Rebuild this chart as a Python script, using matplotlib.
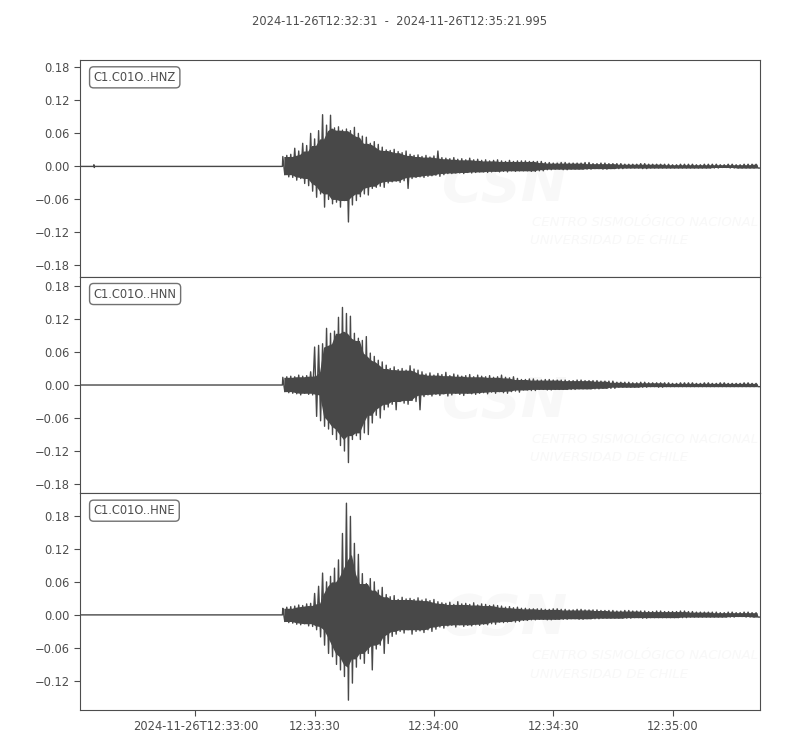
import numpy as np
import matplotlib
matplotlib.use('Agg')
from matplotlib import pyplot as plt
from matplotlib.ticker import MultipleLocator

# seconds after 2024-11-26T12:32:31
t_start = 0.0
t_end = 170.995
onset = 50.9
t_main = np.arange(51, 111)          # 1 s bins, strong motion part
t_tail = np.arange(112, 171, 2)      # 2 s bins, coda

labels = ['C1.C01O..HNZ', 'C1.C01O..HNN', 'C1.C01O..HNE']
title = '2024-11-26T12:32:31  -  2024-11-26T12:35:21.995'

# peak max / min per bin
hnz_hi = [.018, .020, .022, .033, .028, .042, .038, .060, .050, .065,
          .094, .075, .093, .070, .072, .066, .068, .065, .071, .060,
          .055, .053, .042, .045, .040, .035, .030, .029, .031, .027,
          .025, .028, .022, .020, .021, .018, .020, .017, .019, .028,
          .016, .015, .014, .016, .013, .014, .012, .015, .012, .013,
          .011, .012, .010, .011, .012, .010, .009, .011, .009, .010]
hnz_lo = [-.015, -.019, -.020, -.025, -.022, -.031, -.035, -.045, -.056, -.050,
          -.074, -.060, -.068, -.065, -.074, -.062, -.101, -.070, -.062, -.055,
          -.050, -.052, -.040, -.038, -.036, -.038, -.030, -.028, -.027, -.029,
          -.026, -.040, -.022, -.020, -.019, -.020, -.018, -.017, -.016, -.018,
          -.015, -.013, -.013, -.012, -.012, -.013, -.011, -.012, -.011, -.010,
          -.010, -.011, -.010, -.009, -.010, -.009, -.010, -.008, -.009, -.008]
hnz_tail_hi = [.010, .009, .009, .007, .006, .007, .006, .006, .007, .005,
               .006, .005, .005, .004, .004, .005, .004, .004, .004, .003,
               .004, .004, .003, .004, .004, .003, .004, .003, .004, .004]
hnz_tail_lo = [-.008, -.009, -.008, -.006, -.005, -.006, -.005, -.005, -.005, -.004,
               -.005, -.004, -.004, -.003, -.003, -.004, -.003, -.003, -.003, -.003,
               -.003, -.003, -.003, -.003, -.003, -.002, -.003, -.003, -.003, -.003]

hnn_hi = [.014, .015, .016, .015, .018, .016, .017, .024, .069, .072,
          .075, .103, .094, .098, .123, .141, .130, .125, .094, .085,
          .081, .088, .058, .052, .045, .042, .036, .030, .033, .028,
          .030, .027, .035, .029, .027, .024, .020, .022, .018, .021,
          .019, .023, .017, .020, .018, .016, .017, .019, .015, .018,
          .016, .015, .017, .014, .015, .018, .014, .013, .015, .012]
hnn_lo = [-.012, -.014, -.015, -.016, -.018, -.015, -.017, -.018, -.057, -.065,
          -.075, -.080, -.090, -.099, -.110, -.120, -.141, -.099, -.092, -.099,
          -.087, -.090, -.069, -.055, -.060, -.045, -.040, -.035, -.045, -.030,
          -.033, -.035, -.028, -.030, -.045, -.021, -.018, -.020, -.017, -.019,
          -.016, -.020, -.018, -.015, -.017, -.019, -.015, -.016, -.017, -.015,
          -.014, -.016, -.013, -.015, -.012, -.014, -.015, -.012, -.011, -.013]
hnn_tail_hi = [.010, .011, .009, .010, .009, .009, .008, .009, .008, .008,
               .007, .007, .005, .005, .004, .005, .004, .004, .004, .003,
               .004, .004, .003, .004, .003, .004, .003, .003, .004, .003]
hnn_tail_lo = [-.009, -.010, -.008, -.009, -.008, -.008, -.008, -.007, -.007, -.007,
               -.006, -.006, -.004, -.004, -.004, -.004, -.003, -.004, -.003, -.003,
               -.003, -.003, -.003, -.003, -.003, -.003, -.003, -.003, -.003, -.003]

hne_hi = [.012, .014, .015, .016, .018, .017, .020, .021, .039, .052,
          .076, .060, .070, .085, .100, .148, .203, .179, .130, .110,
          .075, .057, .066, .060, .045, .050, .037, .033, .035, .028,
          .032, .029, .030, .028, .031, .027, .029, .026, .028, .024,
          .022, .021, .023, .019, .024, .020, .021, .019, .022, .018,
          .020, .019, .017, .018, .017, .016, .014, .015, .013, .014]
hne_lo = [-.012, -.014, -.015, -.017, -.018, -.016, -.020, -.021, -.027, -.040,
          -.055, -.070, -.076, -.090, -.100, -.112, -.155, -.124, -.095, -.080,
          -.088, -.070, -.100, -.062, -.055, -.070, -.052, -.039, -.035, -.030,
          -.033, -.027, -.035, -.030, -.029, -.032, -.027, -.030, -.026, -.022,
          -.024, -.020, -.019, -.022, -.018, -.021, -.019, -.020, -.018, -.019,
          -.017, -.018, -.016, -.017, -.013, -.014, -.013, -.012, -.013, -.012]
hne_tail_hi = [.012, .011, .011, .010, .011, .010, .009, .010, .009, .009,
               .008, .008, .007, .008, .007, .007, .006, .007, .006, .006,
               .007, .006, .005, .005, .005, .004, .005, .004, .005, .004]
hne_tail_lo = [-.010, -.009, -.008, -.009, -.008, -.008, -.007, -.008, -.007, -.007,
               -.006, -.006, -.006, -.006, -.005, -.006, -.005, -.005, -.005, -.005,
               -.005, -.004, -.004, -.004, -.004, -.004, -.004, -.003, -.004, -.004]

# small blip before the P arrival on the vertical channel
hnz_pre_t = [3.4, 3.5, 3.6, 3.7]
hnz_pre_a = [0.0, 0.003, -0.002, 0.0]

xtick_pos = [29, 59, 89, 119, 149]
xtick_lab = ['2024-11-26T12:33:00', '12:33:30', '12:34:00', '12:34:30', '12:35:00']

grey = '#4d4d4d'
line_col = '#484848'
fs = 8.3
win = 5


def trace_xy(hi, lo, tail_hi, tail_lo, pre_t=(), pre_a=()):
    # zigzag between bin max and bin min, like obspy's min/max plotting
    hi_all = np.concatenate([hi, np.repeat(tail_hi, 2)])
    lo_all = np.concatenate([lo, np.repeat(tail_lo, 2)])
    tt = np.concatenate([t_main, np.arange(t_tail[0] - 1, t_tail[-1] + 1)])
    x = np.empty(2 * len(tt))
    y = np.empty(2 * len(tt))
    x[0::2] = tt
    x[1::2] = tt + 0.5
    y[0::2] = hi_all
    y[1::2] = lo_all
    x = np.concatenate([[t_start], pre_t, [onset], x, [t_end]])
    y = np.concatenate([[0.0], pre_a, [0.0], y, [lo_all[-1]]])
    # solid body of the trace: what every bin in a small window reaches
    k = win // 2
    pad_hi = np.pad(hi_all, k, mode='edge')
    pad_lo = np.pad(lo_all, k, mode='edge')
    n = len(hi_all)
    body_hi = np.min([pad_hi[i:i + n] for i in range(win)], axis=0)
    body_lo = np.max([pad_lo[i:i + n] for i in range(win)], axis=0)
    return x, y, tt + 0.25, body_hi, body_lo


traces = [trace_xy(hnz_hi, hnz_lo, hnz_tail_hi, hnz_tail_lo, hnz_pre_t, hnz_pre_a),
          trace_xy(hnn_hi, hnn_lo, hnn_tail_hi, hnn_tail_lo),
          trace_xy(hne_hi, hne_lo, hne_tail_hi, hne_tail_lo)]

fig = plt.figure(figsize=(8, 7.5), dpi=100)
fig.subplots_adjust(left=0.1, right=0.95, top=0.92, bottom=0.0533, hspace=0)
axes = fig.subplots(3, 1, sharex=True)

max_range = max(tr[1].max() - tr[1].min() for tr in traces) * 1.1

wm = '#f8f8f8'
for ax, (x, y, bx, bhi, blo), lab in zip(axes, traces, labels):
    # faint CSN watermark
    ax.text(0.625, 0.42, 'CSN', transform=ax.transAxes, fontsize=40, fontweight='bold',
            style='italic', color=wm, ha='center', va='center', zorder=0)
    ax.text(0.665, 0.25, 'CENTRO SISMOLÓGICO NACIONAL', transform=ax.transAxes,
            fontsize=9.5, style='italic', color=wm, ha='left', va='center', zorder=0)
    ax.text(0.662, 0.165, 'UNIVERSIDAD DE CHILE', transform=ax.transAxes,
            fontsize=9.5, style='italic', color=wm, ha='left', va='center', zorder=0)

    ax.fill_between(bx, blo, bhi, color=line_col, lw=0, zorder=2)
    ax.plot(x, y, color=line_col, lw=1.0, zorder=2)
    mid = (y.max() + y.min()) / 2
    ax.set_ylim(mid - max_range / 2, mid + max_range / 2)
    ax.set_xlim(t_start, t_end)
    ax.yaxis.set_major_locator(MultipleLocator(0.06))
    ax.text(0.02, 0.95, lab, transform=ax.transAxes, va='top', ha='left',
            fontsize=fs, color=grey, zorder=5,
            bbox=dict(boxstyle='round,pad=0.35', fc='w', ec=grey, alpha=0.8))
    ax.tick_params(colors=grey, labelsize=fs, direction='out', length=4)
    for sp in ax.spines.values():
        sp.set_color(grey)
    ax.tick_params(axis='x', bottom=False, labelbottom=False)

axes[-1].tick_params(axis='x', bottom=True, labelbottom=True)
axes[-1].set_xticks(xtick_pos)
axes[-1].set_xticklabels(xtick_lab)

fig.suptitle(title, y=0.98, fontsize=fs, color=grey)
fig.savefig('out.png', dpi=100)
